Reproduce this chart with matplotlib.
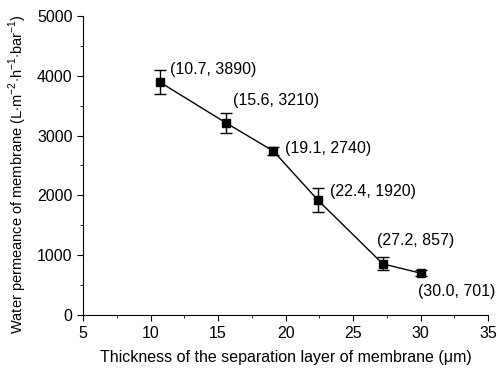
import matplotlib
matplotlib.use('Agg')
import matplotlib.pyplot as plt
from matplotlib.ticker import MultipleLocator

plt.rcParams['font.family'] = ['Liberation Sans', 'DejaVu Sans']
plt.rcParams['mathtext.fontset'] = 'custom'
plt.rcParams['mathtext.rm'] = 'Liberation Sans'

thickness = [10.7, 15.6, 19.1, 22.4, 27.2, 30.0]
permeance = [3890, 3210, 2740, 1920, 857, 701]
errors = [200, 160, 65, 200, 110, 45]
labels = ['(10.7, 3890)', '(15.6, 3210)', '(19.1, 2740)',
          '(22.4, 1920)', '(27.2, 857)', '(30.0, 701)']
# label offsets in pixels (dx, dy up)
offsets = [(10, 13), (7, 23), (12, 3), (12, 9), (-6, 23), (-3, -18)]

fig = plt.figure(figsize=(4.98, 3.69), dpi=100)
ax = fig.add_axes([0.167, 0.146, 0.813, 0.811])

ax.errorbar(thickness, permeance, yerr=errors, color='black', marker='s',
            markersize=6, linewidth=1, elinewidth=1, capsize=4, capthick=1)

for x, y, lab, (dx, dy) in zip(thickness, permeance, labels, offsets):
    ax.annotate(lab, (x, y), xytext=(dx * 0.72, dy * 0.72),
                textcoords='offset points', ha='left', va='center', fontsize=11.5)

ax.set_xlim(5, 35)
ax.set_ylim(0, 5000)
ax.xaxis.set_major_locator(MultipleLocator(5))
ax.xaxis.set_minor_locator(MultipleLocator(2.5))
ax.yaxis.set_major_locator(MultipleLocator(1000))
ax.yaxis.set_minor_locator(MultipleLocator(500))
ax.tick_params(which='major', direction='out', length=4, labelsize=11.5)
ax.tick_params(which='minor', direction='out', length=2.5)
ax.spines['top'].set_visible(False)
ax.spines['right'].set_visible(False)

ax.set_xlabel('Thickness of the separation layer of membrane (\u03bcm)',
              fontsize=11.5, labelpad=7)
ax.set_ylabel(r'Water permeance of membrane (L$\cdot$m$^{-2}$$\cdot$h$^{-1}$$\cdot$bar$^{-1}$)',
              fontsize=10.5, labelpad=6)
ax.yaxis.label.set_y(0.47)

fig.savefig('out.png', dpi=100)
